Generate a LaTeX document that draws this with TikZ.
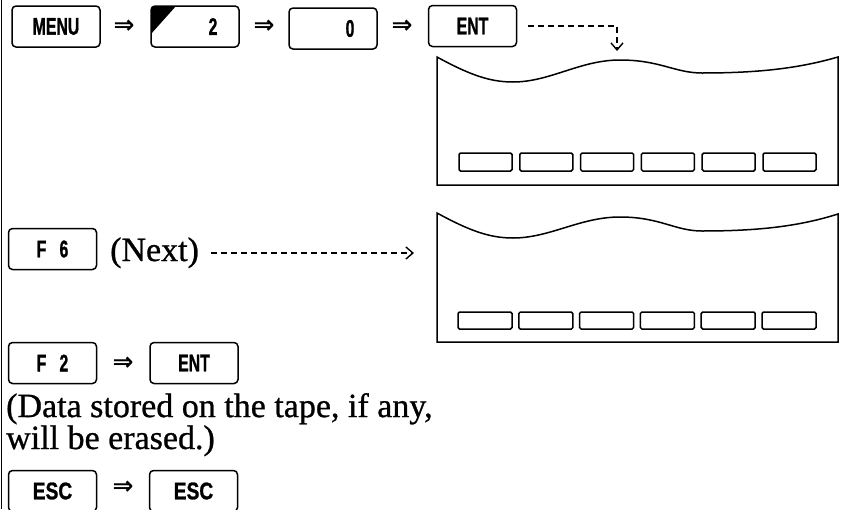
\documentclass[tikz,border=0pt]{standalone}
\usepackage{fontspec}
\usepackage{graphicx}
\setmainfont{Liberation Serif}[FakeBold=0.8]
\newfontfamily\keyfam{Liberation Sans}[BoldFeatures={FakeBold=1.2}]
\newfontfamily\symfam{DejaVu Sans}
\usetikzlibrary{arrows.meta}
\newcommand\kf[2][0.66]{\scalebox{#1}[1]{\fontsize{24}{24}\selectfont\keyfam\bfseries #2}}
\tikzset{
  key/.style={draw, line width=1.5pt, rounded corners=4pt, minimum width=88pt, minimum height=41pt, inner sep=0pt},
  impl/.style={inner sep=0pt, font=\fontsize{25}{25}\selectfont\symfam\bfseries},
  dsh/.style={line width=1.2pt, dash pattern=on 6pt off 4pt, -{Straight Barb[length=7pt,width=12pt,line width=1.4pt]}},
  disp/.style={line width=1.5pt},
  softkey/.style={line width=1.5pt, rounded corners=1.5pt},
  body/.style={inner sep=0pt, anchor=base west, align=left, font=\fontsize{34}{29}\selectfont}
}
\begin{document}
\begin{tikzpicture}[x=1pt,y=-1pt]
\useasboundingbox (0,0) rectangle (841,509);
\clip (0,0) rectangle (841,509);
\draw[line width=1pt] (1,0) -- (1,509);
% row 1
\node[key] (menu) at (56,26.5) {\kf{MENU}};
\node[impl] (i1) at (124,27) {⇒};
\begin{scope}
\clip[rounded corners=4pt] (151,6) rectangle (239,47);
\fill (151,6) -- (176,6) -- (151,34) -- cycle;
\end{scope}
\node[key] (two) at (195,26.5) {\hspace*{36pt}\kf{2}};
\node[impl] (i2) at (264,27) {⇒};
\node[key] (zero) at (333,28.5) {\hspace*{34pt}\kf{0}};
\node[impl] (i3) at (402,27) {⇒};
\node[key] (ent1) at (472.5,26) {\kf{ENT}};
% display 1
\draw[disp] (437,57) .. controls (470,75) and (490,82) .. (513,82)
  .. controls (550,82) and (580,60) .. (620,60)
  .. controls (660,60) and (675,73) .. (702,73)
  .. controls (760,73) and (800,68) .. (838,57)
  -- (838,185) -- (437,185) -- cycle;
\foreach \i in {0,...,5} \draw[softkey] ({459+60.8*\i},153) rectangle ++(53,18);
\coordinate (d1) at (617,51);
\draw[dsh] ([xshift=11pt]ent1.east) -| (d1);
% display 2
\draw[disp] (437,213) .. controls (470,231) and (490,238) .. (513,238)
  .. controls (550,238) and (580,217) .. (620,217)
  .. controls (660,217) and (675,231) .. (702,231)
  .. controls (760,231) and (800,226) .. (838,214)
  -- (838,342) -- (437,342) -- cycle;
\foreach \i in {0,...,5} \draw[softkey] ({458+60.8*\i},312) rectangle ++(54,17);
% F6 row
\node[key] (f6) at (52.5,249) {\kf{F\hspace{20pt}6}};
\node[body] (next) at (110,261) {(Next)};
\coordinate (d2) at (414,253);
\draw[dsh] ([xshift=12pt]next.east |- d2) -- (d2);
% F2 row
\node[key] (f2) at (52.5,363) {\kf{F\hspace{20pt}2}};
\node[impl] (i4) at (123,364) {⇒};
\node[key] (ent2) at (194,363) {\kf{ENT}};
\node[body] (t1) at (6,449) {(Data stored on the tape, if any,\\will be erased.)};
% ESC row
\node[key] (esc1) at (52.5,491) {\kf[0.8]{ESC}};
\node[impl] (i5) at (123,488) {⇒};
\node[key] (esc2) at (193.5,491) {\kf[0.8]{ESC}};
\end{tikzpicture}
\end{document}
